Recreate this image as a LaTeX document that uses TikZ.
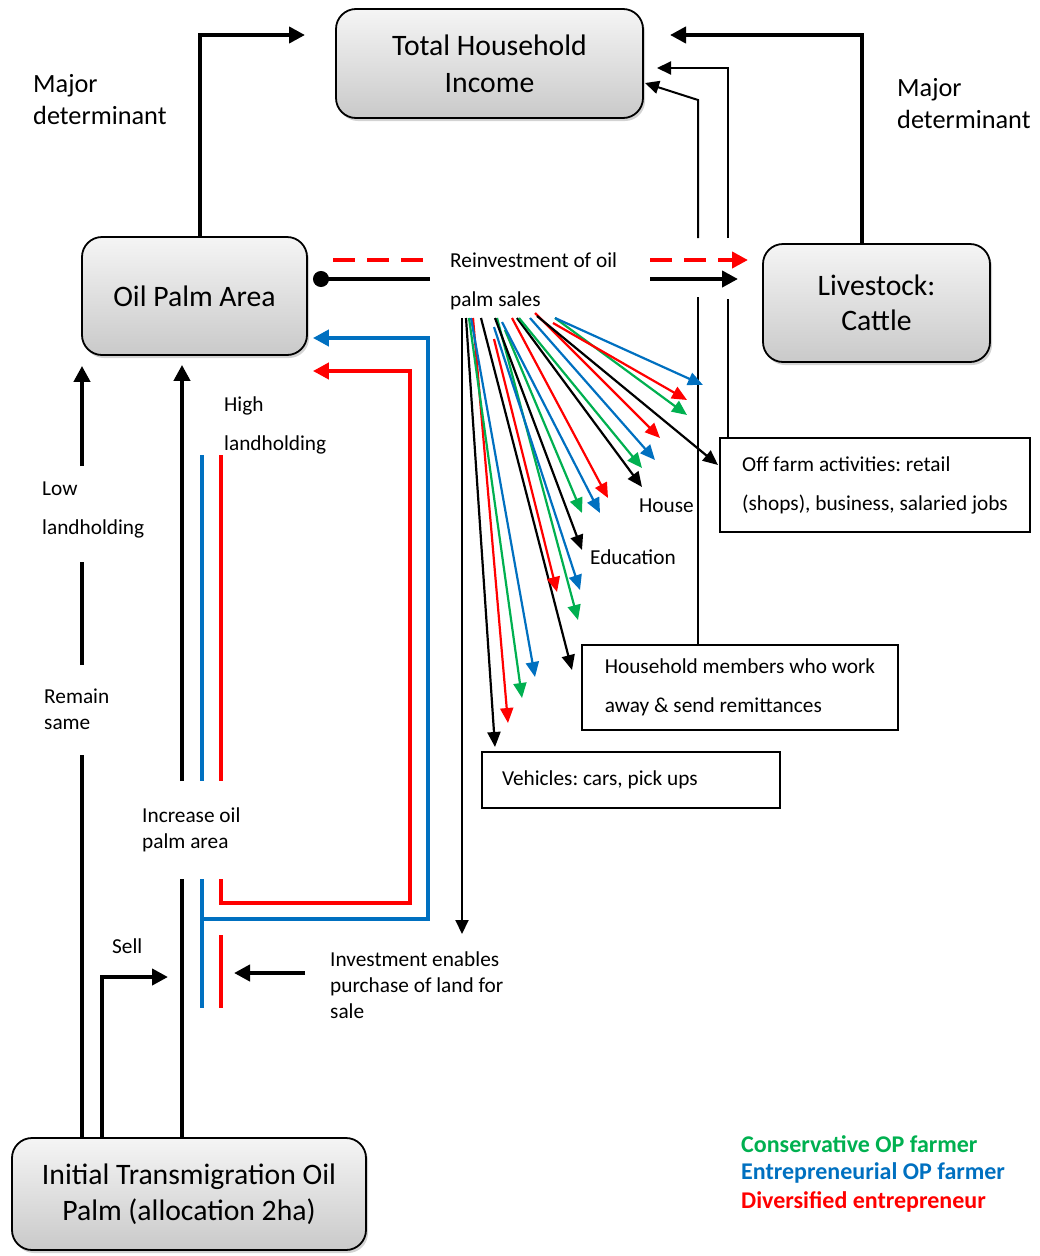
\documentclass[tikz,border=0pt]{standalone}
\usepackage{fontspec}
\setmainfont{Carlito}
\usetikzlibrary{arrows.meta,positioning,calc,shadows}
\definecolor{opgreen}{HTML}{00B050}
\definecolor{opblue}{HTML}{0070C0}
\definecolor{opred}{HTML}{FF0000}

\begin{document}
\frenchspacing
\begin{tikzpicture}[
  x=1pt,y=-1pt,
  bigbox/.style={rounded corners=20pt,draw=black,line width=1.8pt,
                 top color=gray!8,bottom color=gray!42,
                 drop shadow={shadow xshift=2pt,shadow yshift=-3pt,opacity=.35},
                 align=center,inner sep=0pt,font=\fontsize{29.7}{37}\selectfont},
  txtbox/.style={draw=black,line width=1.1pt,align=left,inner xsep=20pt,
                 inner ysep=0pt,font=\frenchspacing\fontsize{21.3}{39}\selectfont},
  lbl/.style={inner sep=0pt,align=left,anchor=west,font=\fontsize{21.3}{39}\selectfont},
  lblt/.style={lbl,font=\fontsize{21.3}{26}\selectfont},
  lgd/.style={inner sep=0pt,anchor=west,font=\bfseries\fontsize{24}{29}\selectfont},
  thk/.style={line width=4pt},
  thn/.style={line width=2pt},
  big tip/.style={-{Triangle[length=16pt,width=16pt]}},
  small tip/.style={-{Triangle[length=14pt,width=13pt]}},
  fan/.style={line width=2.2pt,-{Triangle[length=15pt,width=13pt]}}
]
\useasboundingbox (0,0) rectangle (1040,1256);

\node[bigbox,minimum width=307pt,minimum height=109pt] (inc) at (489.5,63.5) {Total Household\\Income};
\node[bigbox,minimum width=225pt,minimum height=118pt] (opa) at (194.5,296) {Oil Palm Area};
\node[bigbox,minimum width=227pt,minimum height=118pt,font=\fontsize{29.7}{35}\selectfont] (lvs) at (876.5,303) {Livestock:\\Cattle};
\node[bigbox,minimum width=354pt,minimum height=112pt,font=\fontsize{29.7}{36}\selectfont] (init) at (189,1194) {Initial Transmigration Oil\\Palm (allocation 2ha)};

\node[txtbox,minimum width=310pt,minimum height=94pt] (off) at (875,485) {Off farm activities: retail\\(shops), business, salaried jobs};
\node[txtbox,minimum width=316pt,minimum height=85pt] (hhm) at (740,687.5) {Household members who work\\away \& send remittances};
\node[txtbox,minimum width=298pt,minimum height=56pt] (veh) at (631,780) {\makebox[258pt][l]{Vehicles: cars, pick ups}};

\node[inner sep=0pt,align=left,anchor=west,font=\fontsize{26.3}{32}\selectfont] (majl) at (33,100) {Major\\determinant};
\node[inner sep=0pt,align=left,anchor=west,font=\fontsize{26.3}{32}\selectfont] (majr) at (897,103.5) {Major\\determinant};
\node[lbl] (reinv) at (450,281.5) {Reinvestment of oil\\palm sales};
\node[lbl] (high) at (224,425.5) {High\\landholding};
\node[lbl] (low) at (42,509.5) {Low\\landholding};
\node[lblt] (remain) at (44,709) {Remain\\same};
\node[lblt] (incr) at (142,830) {Increase oil\\palm area};
\node[lbl] (sell) at (112,946) {Sell};
\node[lblt] (invest) at (330,985) {Investment enables\\purchase of land for\\sale};
\node[lbl] (house) at (639,506) {House};
\node[lbl] (edu) at (590,557) {Education};

\node[lgd,text=opgreen] (lgc) at (741,1144) {Conservative OP farmer};
\node[lgd,text=opblue] (lge) at (741,1173) {Entrepreneurial OP farmer};
\node[lgd,text=opred] (lgd) at (741,1202) {Diversified entrepreneur};

\coordinate (incl) at (305,35);
\coordinate (incr2) at (670,35);
\coordinate (inca) at (657,68);
\coordinate (incb) at (645,83);
\coordinate (xl) at (82,0);
\coordinate (xm) at (182,0);

\draw[thk,big tip] ([xshift=5.5pt]opa.north) |- (incl);
\draw[thk,big tip] ([xshift=-14.5pt]lvs.north) |- (incr2);
\draw[thn] ([xshift=-147pt]off.north) -- (728,299);
\draw[thn,small tip] (728,238) |- (inca);
\draw[thn] ([xshift=-42pt]hhm.north) -- (698,297);
\draw[thn,small tip] (698,238) -- (698,100) -- (incb);

\draw[opred,thk,dash pattern=on 22pt off 12pt] (333,260) -- (430,260);
\draw[opred,thk,dash pattern=on 22pt off 12pt,big tip] (650,260) -- (748,260);
\draw[thk,{Circle[length=16pt,width=16pt]}-] (313,279) -- (430,279);
\draw[thk,big tip] (650,279) -- (738,279);

\draw[thk] (xl |- init.north) -- (82,755);
\draw[thk] (82,665) -- (82,562);
\draw[thk,big tip] (82,466) -- ([yshift=-10pt]xl |- opa.south);
\draw[thk,big tip] (182,781) -- ([yshift=-9pt]xm |- opa.south);
\draw[thk] (xm |- init.north) -- (182,879);
\draw[thk,big tip] ([xshift=-87pt]init.north) |- (168,977);
\draw[thk,big tip] (305,973) -- (234,973);

\draw[opblue,thk] (202,455) -- (202,781);
\draw[opblue,thk] (202,879) -- (202,1008);
\draw[opblue,thk,big tip] (202,919) -- (428,919) -- (428,338) -- ($(opa.east)+(5,42)$);
\draw[opred,thk] (221,455) -- (221,781);
\draw[opred,thk] (221,935) -- (221,1008);
\draw[opred,thk,big tip] (221,879) -- (221,903) -- (410,903) -- (410,371) -- ($(opa.east)+(5,75)$);

\draw[thn,small tip] (462,318) -- (462,934);
\foreach \col/\sx/\sy/\ex/\ey in {
  black/466/318/495/747, opred/473/318/508/723, opgreen/469/318/522/698,
  opblue/471/318/535/677, black/481/318/572/670, opgreen/497/318/578/620,
  opred/494/339/557/592, opblue/494/327/580/590, black/495/318/582/550,
  opgreen/505/330/582/513, opblue/502/322/600/513, opred/512/318/608/498,
  black/517/318/642/487, opgreen/519/318/642/468, opblue/530/318/655/460,
  opred/535/313/660/438, black/537/316/718/465, opgreen/555/318/687/415,
  opred/553/323/687/400, opblue/555/318/703/385}
  \draw[fan,\col] (\sx,\sy) -- (\ex,\ey);
\end{tikzpicture}
\end{document}
